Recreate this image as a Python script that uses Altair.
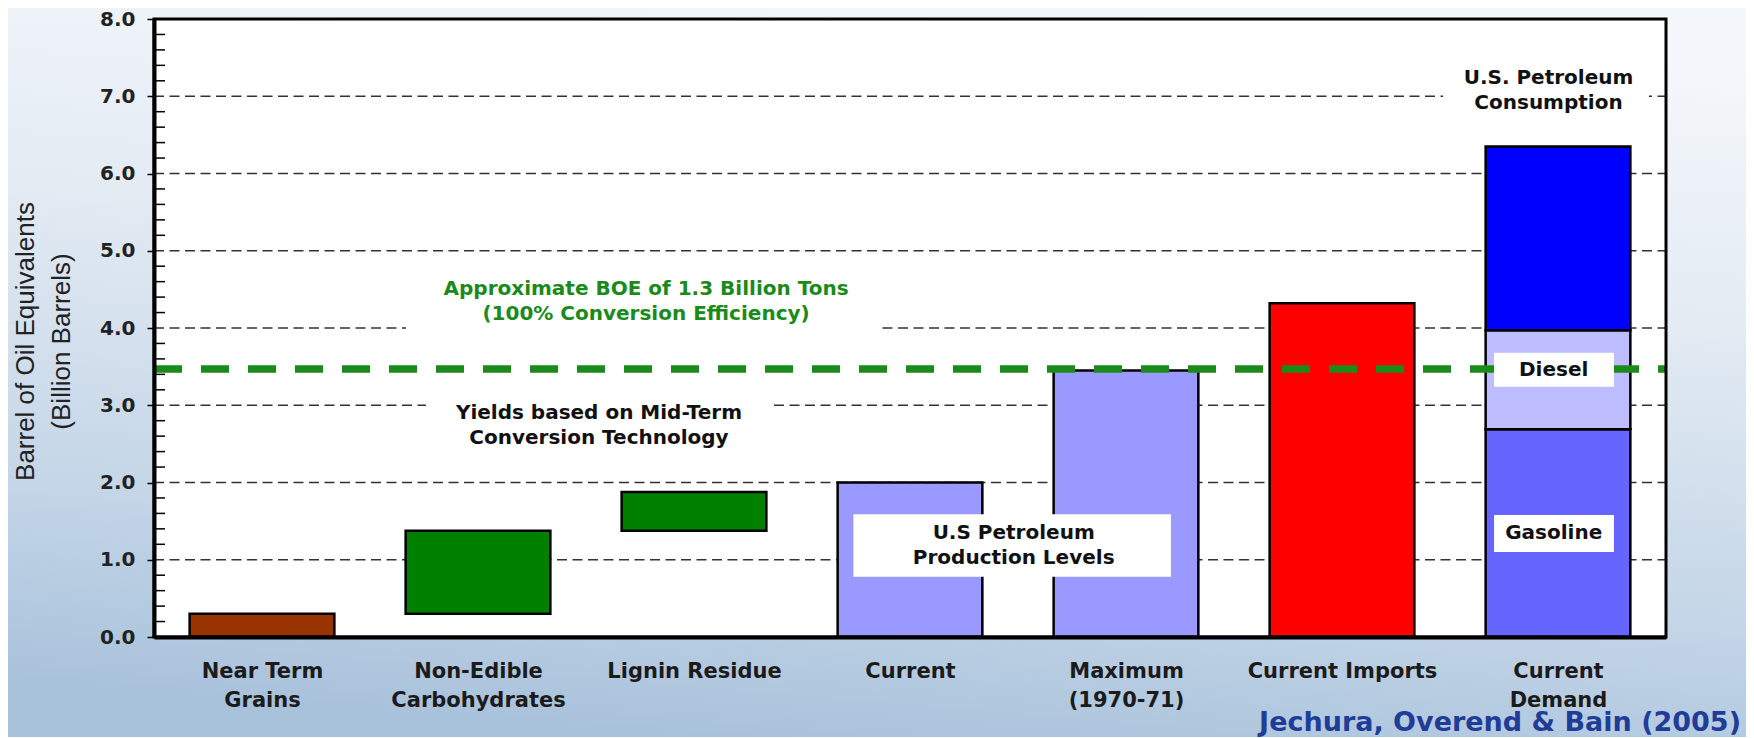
import altair as alt
import pandas as pd

W, H = 1512, 618

# ---- data -------------------------------------------------------------
category_lines = [
    ["Near Term", "Grains"],
    ["Non-Edible", "Carbohydrates"],
    ["Lignin Residue"],
    ["Current"],
    ["Maximum", "(1970-71)"],
    ["Current Imports"],
    ["Current", "Demand"],
]
seg_cat = [0, 1, 2, 3, 4, 5, 6, 6, 6]
seg_low = [0.0, 0.30, 1.375, 0.0, 0.0, 0.0, 0.0, 2.69, 3.97]
seg_high = [0.30, 1.375, 1.877, 2.0, 3.45, 4.32, 2.69, 3.97, 6.35]
seg_group = ["Grains", "Biomass", "Biomass", "Production", "Production",
             "Imports", "Gasoline", "Diesel", "Other"]

group_names = ["Grains", "Biomass", "Production", "Imports", "Gasoline", "Diesel", "Other"]
group_colors = ["#993300", "#008000", "#9999ff", "#ff0000", "#6666ff", "#bdbdff", "#0000ff"]

boe_level = 3.47
grid_values = [1, 2, 3, 4, 5, 6, 7]
minor_ticks = [round(k * 0.2, 1) for k in range(1, 40) if k % 5 != 0]

# annotation texts (x in category units, y = first line, in billion barrels)
note_text = ["Approximate BOE of 1.3 Billion Tons\n(100% Conversion Efficiency)",
             "Yields based on Mid-Term\nConversion Technology",
             "U.S Petroleum\nProduction Levels",
             "U.S. Petroleum\nConsumption",
             "Diesel",
             "Gasoline"]
note_x = [1.778, 1.56, 3.48, 5.956, 5.98, 5.98]
note_y = [4.51, 2.90, 1.34, 7.23, 3.46, 1.34]
note_color = ["#1a8a1a", "#111111", "#111111", "#111111", "#111111", "#111111"]

# white boxes that break the gridlines behind the free-floating notes
gap_x = [0.667, 0.759, 5.468]
gap_x2 = [2.861, 2.352, 6.421]
gap_y = [3.88, 2.42, 6.75]
gap_y2 = [4.72, 3.10, 7.45]

# white label boxes drawn over the bars
box_x = [2.738, 5.704, 5.704]
box_x2 = [4.208, 6.259, 6.259]
box_y = [0.78, 3.24, 1.10]
box_y2 = [1.59, 3.68, 1.58]

source = "Jechura, Overend & Bain (2005)"

# ---- tables -------------------------------------------------------------
bars = pd.DataFrame({"idx": seg_cat, "low": seg_low, "high": seg_high, "group": seg_group})
notes = pd.DataFrame({"t": note_text, "x": note_x, "y": note_y, "c": note_color})
gaps = pd.DataFrame({"x": gap_x, "x2": gap_x2, "y": gap_y, "y2": gap_y2})
boxes = pd.DataFrame({"x": box_x, "x2": box_x2, "y": box_y, "y2": box_y2})
grid = pd.DataFrame({"v": grid_values})
minor = pd.DataFrame({"m": minor_ticks})
boe = pd.DataFrame({"v": [boe_level]})
one = pd.DataFrame({"a": [0]})

xscale = alt.Scale(domain=[-0.5, 6.5], nice=False, zero=False)
yscale = alt.Scale(domain=[0, 8], nice=False, zero=False)

label_js = "[" + ",".join("[" + ",".join("'" + s + "'" for s in lines) + "]"
                          for lines in category_lines) + "]"

x_axis = alt.Axis(
    values=list(range(7)), labelExpr=label_js + "[datum.value]", title=None,
    ticks=False, grid=False, domain=True, domainColor="black", domainWidth=4,
    labelFont="DejaVu Sans", labelFontWeight="bold", labelFontSize=21,
    labelLineHeight=29, labelBaseline="top", labelPadding=23, labelColor="#1b1b1b",
    labelOverlap=False, labelFlush=False, labelAngle=0, labelLimit=400, zindex=1,
)
y_axis = alt.Axis(
    values=list(range(9)), format=".1f", grid=False,
    domain=True, domainColor="black", domainWidth=4,
    ticks=True, tickSize=7, tickColor="black", tickWidth=1.5,
    labelFont="DejaVu Sans", labelFontWeight="bold", labelFontSize=20,
    labelColor="#222222", labelPadding=12,
    title=["Barrel of Oil Equivalents", "(Billion Barrels)"],
    titleFont="Liberation Sans", titleFontSize=26, titleFontWeight="normal",
    titleColor="#222222", titleLineHeight=36, titleAngle=270,
    titleAlign="center", titleBaseline="middle", titleX=-129, titleY=322,
    zindex=1,
)

background = alt.Chart(one).mark_rect(
    fill=alt.Gradient(
        gradient="linear", x1=0.6, y1=0, x2=0.4, y2=1,
        stops=[alt.GradientStop(offset=0, color="#f4f7fb"),
               alt.GradientStop(offset=0.35, color="#e3ebf3"),
               alt.GradientStop(offset=0.75, color="#c3d5e7"),
               alt.GradientStop(offset=1, color="#a9c2db")])
).encode(x=alt.value(-146), x2=alt.value(W + 80), y=alt.value(-11), y2=alt.value(H + 100))

plot_bg = alt.Chart(one).mark_rect(fill="white").encode(
    x=alt.value(0), x2=alt.value(W), y=alt.value(0), y2=alt.value(H))

gridlines = alt.Chart(grid).mark_rule(
    color="#333333", strokeWidth=1.4, strokeDash=[10, 5.5]
).encode(y=alt.Y("v:Q", scale=yscale, axis=None), x=alt.value(0), x2=alt.value(W))

minor_rules = alt.Chart(minor).mark_rule(color="black", strokeWidth=1.5).encode(
    y=alt.Y("m:Q", scale=yscale, axis=None), x=alt.value(0), x2=alt.value(11))

gap_boxes = alt.Chart(gaps).mark_rect(fill="white").encode(
    x=alt.X("x:Q", scale=xscale, axis=None), x2="x2:Q",
    y=alt.Y("y:Q", scale=yscale, axis=None), y2="y2:Q")

bar_layer = alt.Chart(bars).transform_calculate(
    x0="datum.idx - 0.335", x1="datum.idx + 0.335"
).mark_rect(stroke="black", strokeWidth=2.5).encode(
    x=alt.X("x0:Q", scale=xscale, axis=x_axis), x2="x1:Q",
    y=alt.Y("low:Q", scale=yscale, axis=y_axis), y2="high:Q",
    color=alt.Color("group:N", scale=alt.Scale(domain=group_names, range=group_colors), legend=None),
)

boe_line = alt.Chart(boe).mark_rule(
    color="#1a8a1a", strokeWidth=7.5, strokeDash=[28, 19]
).encode(y=alt.Y("v:Q", scale=yscale, axis=None), x=alt.value(0), x2=alt.value(W))

label_boxes = alt.Chart(boxes).mark_rect(fill="white").encode(
    x=alt.X("x:Q", scale=xscale, axis=None), x2="x2:Q",
    y=alt.Y("y:Q", scale=yscale, axis=None), y2="y2:Q")

note_layer = alt.Chart(notes).mark_text(
    font="DejaVu Sans", fontWeight="bold", fontSize=20, lineBreak="\n",
    lineHeight=25, align="center", baseline="middle"
).encode(
    x=alt.X("x:Q", scale=xscale, axis=None), y=alt.Y("y:Q", scale=yscale, axis=None),
    text="t:N", color=alt.Color("c:N", scale=None),
)

border = alt.Chart(one).mark_rect(fillOpacity=0, stroke="black", strokeWidth=3).encode(
    x=alt.value(0), x2=alt.value(W), y=alt.value(0), y2=alt.value(H))

source_text = alt.Chart(pd.DataFrame({"t": [source]})).mark_text(
    font="DejaVu Sans", fontWeight="bold", fontSize=27, align="right",
    baseline="alphabetic", color="#1f3d96"
).encode(text="t:N", x=alt.value(W + 75), y=alt.value(H + 94))

chart = alt.layer(
    background, plot_bg, gridlines, gap_boxes, bar_layer, boe_line,
    label_boxes, note_layer, minor_rules, border, source_text,
).resolve_axis(x="independent", y="independent").properties(
    width=W, height=H,
    autosize=alt.AutoSizeParams(type="none"),
    padding={"left": 146, "top": 11, "right": 80, "bottom": 100},
).configure(background="#dfe8f1").configure_view(stroke=None)

chart.save("out.html", embed_options={"renderer": "svg", "actions": False})
